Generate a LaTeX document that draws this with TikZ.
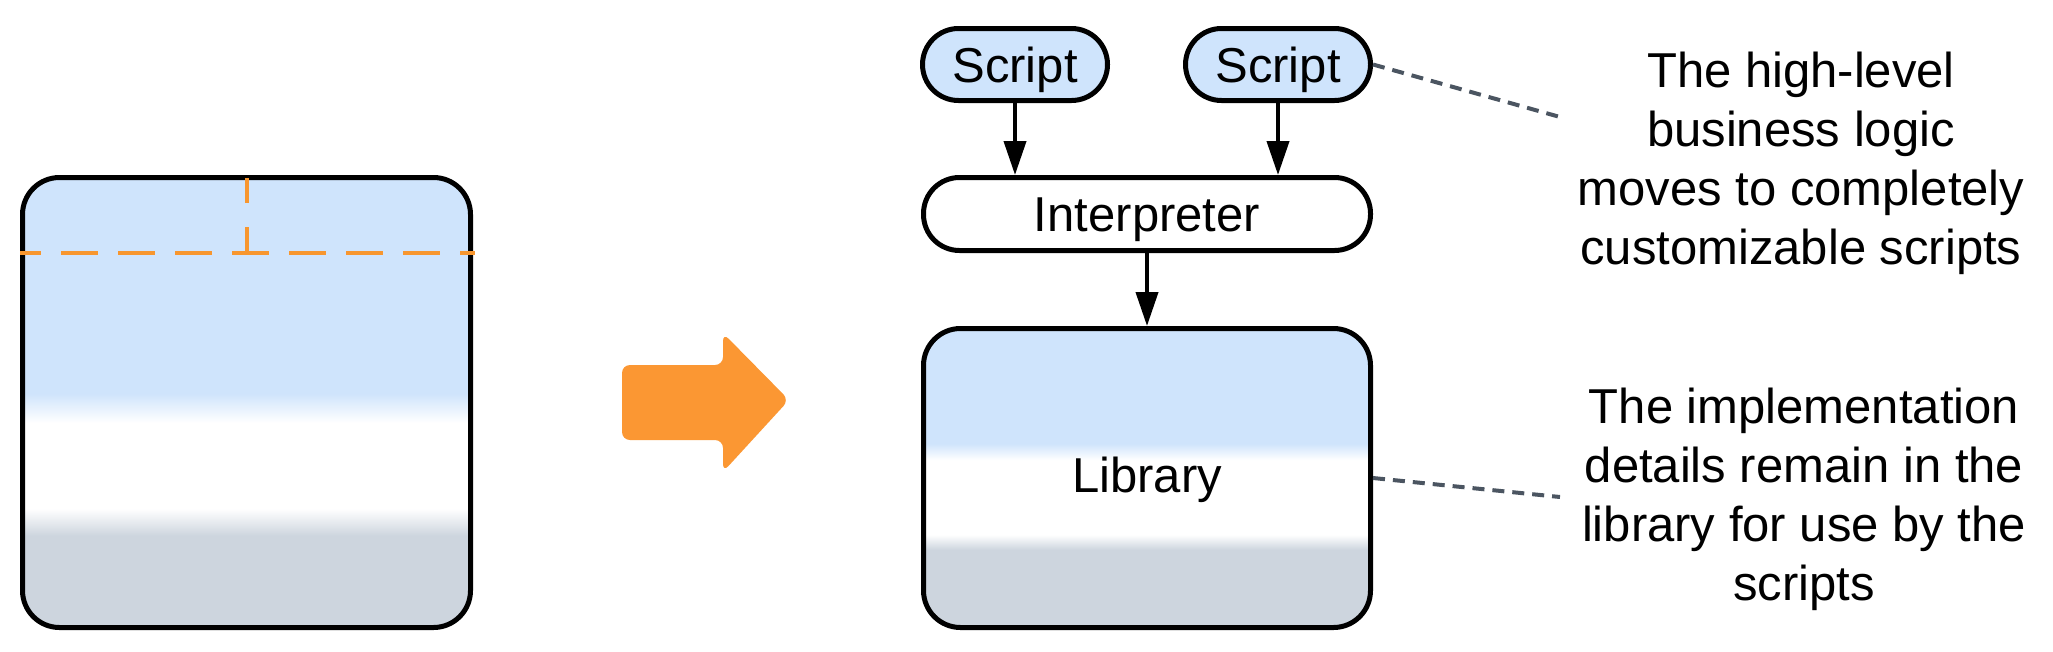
\documentclass[tikz,border=0pt]{standalone}
\usepackage{fontspec}
\setmainfont{Liberation Sans}
\usetikzlibrary{arrows.meta}
\definecolor{boxblue}{HTML}{CFE4FC}
\definecolor{boxgray}{HTML}{CDD5DE}
\definecolor{bigorange}{HTML}{FB9733}
\definecolor{dashorange}{HTML}{F7962F}
\definecolor{notegray}{HTML}{4B5561}
\pgfdeclareverticalshading{leftgrad}{100bp}{color(0bp)=(boxgray); color(35.2bp)=(boxgray); color(38.2bp)=(white); color(47.75bp)=(white); color(51bp)=(boxblue); color(100bp)=(boxblue)}
\pgfdeclareverticalshading{libgrad}{100bp}{color(0bp)=(boxgray); color(38bp)=(boxgray); color(40.5bp)=(white); color(53bp)=(white); color(55.75bp)=(boxblue); color(100bp)=(boxblue)}
\tikzset{
  bigbox/.style={draw=black, line width=5pt, rounded corners=37pt, inner sep=0pt},
  pill/.style={draw=black, line width=5pt, rounded corners=36pt, inner sep=0pt, text height=35pt, text depth=0pt, font=\fontsize{49}{59}\selectfont},
  arr/.style={line width=4pt, -{Triangle[length=34pt,width=22pt]}},
  note/.style={draw=notegray, line width=4pt, dash pattern=on 12pt off 8pt},
  notetext/.style={align=center, inner sep=0pt, anchor=north, font=\fontsize{49}{59}\selectfont},
  orangedash/.style={draw=dashorange, line width=4.5pt}
}
\begin{document}
\begin{tikzpicture}[x=1pt,y=-1pt]
\useasboundingbox (0,0) rectangle (2053,651);
% left box
\node[bigbox, shading=leftgrad, minimum width=448pt, minimum height=450pt] (old) at (246.5,402.5) {};
\draw[orangedash, dash pattern=on 37pt off 20pt, dash phase=16pt] (20,253) -- (475,253);
\draw[orangedash, dash pattern=on 25pt off 24pt] (247,178) -- (247,253);
% big orange arrow
\fill[bigorange, rounded corners=8pt] (622,365) -- (723,365) -- (723,333) -- (789,400) -- (723,472) -- (723,440) -- (622,440) -- cycle;
% right side
\node[pill, fill=boxblue, minimum width=185pt, minimum height=72pt] (s1) at (1015,64.5) {Script};
\node[pill, fill=boxblue, minimum width=185pt, minimum height=72pt] (s2) at (1278,64.5) {Script};
\node[pill, fill=white, minimum width=447pt, minimum height=73pt] (int) at (1147,214) {Interpreter};
\node[bigbox, shading=libgrad, minimum width=447pt, minimum height=299pt, text height=35pt, text depth=7pt, font=\fontsize{49}{59}\selectfont] (lib) at (1147,478) {Library};
\draw[arr] (s1.south) -- (s1.south |- int.north);
\draw[arr] (s2.south) -- (s2.south |- int.north);
\draw[arr] (int.south) -- (lib.north);
% notes
\coordinate (n1end) at (1560,117);
\coordinate (n2end) at (1560,497);
\draw[note] (s2.east) -- (n1end);
\draw[note] (lib.east) -- (n2end);
\node[notetext] (t1) at (1801,52) {The high-level\\business logic\\moves to completely\\customizable scripts};
\node[notetext] (t2) at (1804,388) {The implementation\\details remain in the\\library for use by the\\scripts};
\end{tikzpicture}
\end{document}
